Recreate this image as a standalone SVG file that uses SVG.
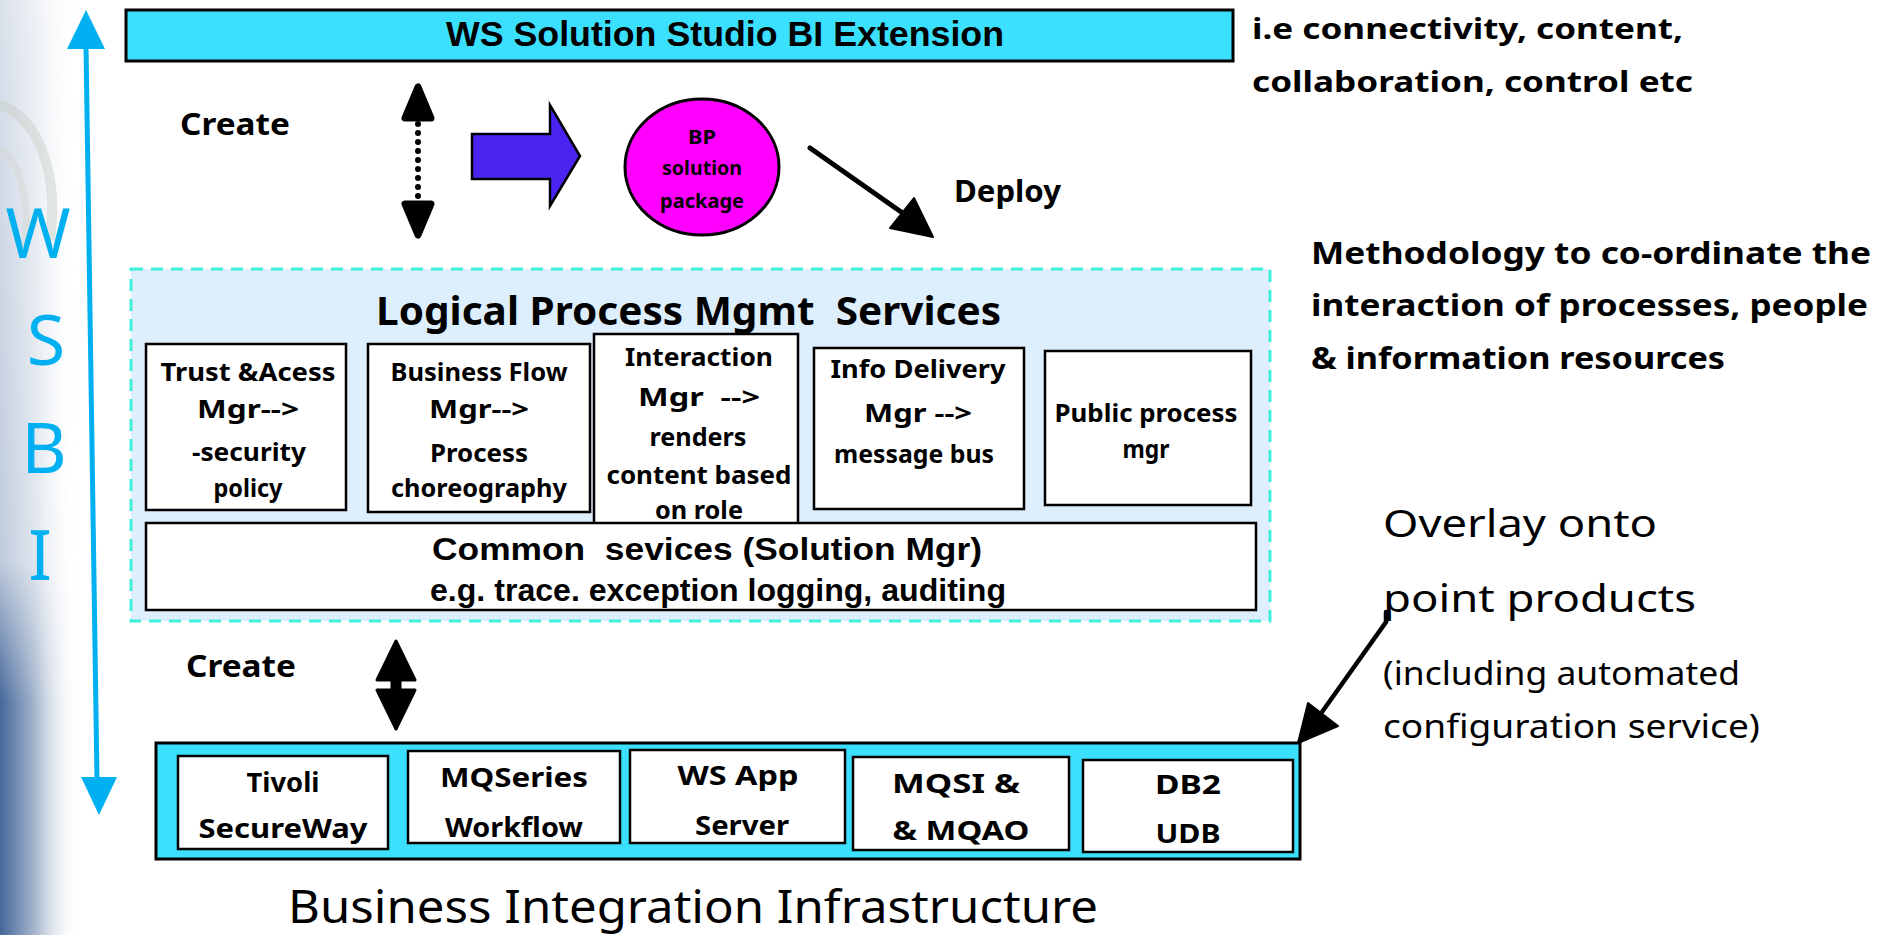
<svg xmlns="http://www.w3.org/2000/svg" width="1882" height="935" viewBox="0 0 1882 935">
<style>
.cb{font-family:"Noto Sans",sans-serif;font-weight:700;fill:#000}
.cr{font-family:"Noto Sans",sans-serif;font-weight:400;fill:#000}
.ab{font-family:"Liberation Sans",Arial,sans-serif;font-weight:700;fill:#000}
.mid{text-anchor:middle}
.box{fill:#fff;stroke:#000;stroke-width:2.5}
.cyan{fill:#3BE0FF;stroke:#000;stroke-width:3}
.wsbi{font-family:"Noto Sans",sans-serif;font-weight:400;fill:#00B0F0;font-size:70px;text-anchor:middle}
.bt{font-size:25px}
.pt{font-size:27px}
</style>
<defs>
<linearGradient id="bgH" x1="0" y1="0" x2="1" y2="0">
<stop offset="0" stop-color="#45679a"/>
<stop offset="0.45" stop-color="#a9b9cf"/>
<stop offset="1" stop-color="#ffffff" stop-opacity="0"/>
</linearGradient>
<linearGradient id="bgV" x1="0" y1="0" x2="0" y2="1">
<stop offset="0" stop-color="#fff" stop-opacity="0.2"/>
<stop offset="0.6" stop-color="#fff" stop-opacity="0.35"/>
<stop offset="0.75" stop-color="#fff" stop-opacity="1"/>
<stop offset="1" stop-color="#fff" stop-opacity="1"/>
</linearGradient>
<mask id="bgM"><rect x="0" y="0" width="90" height="935" fill="url(#bgV)"/></mask>
</defs>

<g id="background">
<rect x="0" y="0" width="1882" height="935" fill="#fff"/>
<rect x="0" y="0" width="80" height="935" fill="url(#bgH)" mask="url(#bgM)"/>
<path d="M0 105 C35 115 60 170 50 240" stroke="#c9cfc9" stroke-width="10" fill="none" opacity="0.5"/>
<path d="M0 150 C20 160 30 200 25 250" stroke="#d4d8d4" stroke-width="7" fill="none" opacity="0.5"/>
</g>

<g id="wsbi-axis">
<text class="wsbi" x="38" y="258">W</text>
<text class="wsbi" x="46" y="365">S</text>
<text class="wsbi" x="44" y="473">B</text>
<text class="wsbi" x="40" y="580">I</text>
</g>

<g id="top-bar">
<rect class="cyan" x="126" y="10" width="1107" height="51"/>
<text class="ab" x="725" y="46" font-size="35" text-anchor="middle" textLength="558" lengthAdjust="spacingAndGlyphs">WS Solution Studio BI Extension</text>
</g>

<g id="note-top">
<text class="cb" x="1252" y="39" font-size="29" textLength="431" lengthAdjust="spacingAndGlyphs">i.e connectivity, content,</text>
<text class="cb" x="1252" y="92" font-size="29" textLength="441" lengthAdjust="spacingAndGlyphs">collaboration, control etc</text>
</g>

<g id="create-top">
<text class="cb" x="180" y="135" font-size="30" textLength="110" lengthAdjust="spacingAndGlyphs">Create</text>
</g>

<g id="bp-package">
<ellipse cx="702" cy="167" rx="77" ry="68" fill="#FF00FF" stroke="#000" stroke-width="3"/>
<text class="cb mid" x="702" y="144" font-size="19" textLength="28" lengthAdjust="spacingAndGlyphs">BP</text>
<text class="cb mid" x="702" y="175" font-size="19" textLength="80" lengthAdjust="spacingAndGlyphs">solution</text>
<text class="cb mid" x="702" y="208" font-size="19" textLength="84" lengthAdjust="spacingAndGlyphs">package</text>
</g>

<g id="deploy-label">
<text class="cb" x="954" y="202" font-size="30" textLength="107" lengthAdjust="spacingAndGlyphs">Deploy</text>
</g>

<g id="note-methodology">
<text class="cb" x="1311" y="264" font-size="30" textLength="560" lengthAdjust="spacingAndGlyphs">Methodology to co-ordinate the</text>
<text class="cb" x="1311" y="316" font-size="30" textLength="557" lengthAdjust="spacingAndGlyphs">interaction of processes, people</text>
<text class="cb" x="1311" y="369" font-size="30" textLength="414" lengthAdjust="spacingAndGlyphs">&amp; information resources</text>
</g>

<g id="logical-services">
<rect x="131" y="269" width="1139" height="352" fill="#DDEEFD" stroke="#3CF0DC" stroke-width="3" stroke-dasharray="12 8"/>
<text class="cb" x="376" y="325" font-size="40" textLength="625" lengthAdjust="spacingAndGlyphs">Logical Process Mgmt&#160; Services</text>
</g>

<g id="trust-access">
<rect class="box" x="146" y="344" width="200" height="166"/>
<text class="cb mid bt" x="248" y="381" textLength="175" lengthAdjust="spacingAndGlyphs">Trust &amp;Acess</text>
<text class="cb mid bt" x="248" y="418" textLength="102" lengthAdjust="spacingAndGlyphs">Mgr--&gt;</text>
<text class="cb mid bt" x="249" y="461" textLength="114" lengthAdjust="spacingAndGlyphs">-security</text>
<text class="cb mid bt" x="248" y="497" textLength="69" lengthAdjust="spacingAndGlyphs">policy</text>
</g>

<g id="business-flow">
<rect class="box" x="368" y="344" width="222" height="168"/>
<text class="cb mid bt" x="479" y="381" textLength="177" lengthAdjust="spacingAndGlyphs">Business Flow</text>
<text class="cb mid bt" x="479" y="418" textLength="100" lengthAdjust="spacingAndGlyphs">Mgr--&gt;</text>
<text class="cb mid bt" x="479" y="462" textLength="98" lengthAdjust="spacingAndGlyphs">Process</text>
<text class="cb mid bt" x="479" y="497" textLength="176" lengthAdjust="spacingAndGlyphs">choreography</text>
</g>

<g id="interaction">
<rect class="box" x="594" y="334" width="204" height="200"/>
<text class="cb mid bt" x="699" y="366" textLength="148" lengthAdjust="spacingAndGlyphs">Interaction</text>
<text class="cb mid bt" x="699" y="406" textLength="122" lengthAdjust="spacingAndGlyphs">Mgr&#160;&#160;--&gt;</text>
<text class="cb mid bt" x="698" y="446" textLength="97" lengthAdjust="spacingAndGlyphs">renders</text>
<text class="cb mid bt" x="699" y="484" textLength="185" lengthAdjust="spacingAndGlyphs">content based</text>
<text class="cb mid bt" x="699" y="519" textLength="88" lengthAdjust="spacingAndGlyphs">on role</text>
</g>

<g id="info-delivery">
<rect class="box" x="814" y="348" width="210" height="161"/>
<text class="cb mid bt" x="918" y="378" textLength="175" lengthAdjust="spacingAndGlyphs">Info Delivery</text>
<text class="cb mid bt" x="918" y="422" textLength="108" lengthAdjust="spacingAndGlyphs">Mgr --&gt;</text>
<text class="cb mid bt" x="914" y="463" textLength="160" lengthAdjust="spacingAndGlyphs">message bus</text>
</g>

<g id="public-process">
<rect class="box" x="1045" y="351" width="206" height="154"/>
<text class="cb mid bt" x="1146" y="422" textLength="183" lengthAdjust="spacingAndGlyphs">Public process</text>
<text class="cb mid bt" x="1146" y="458" textLength="47" lengthAdjust="spacingAndGlyphs">mgr</text>
</g>

<g id="common-services">
<rect class="box" x="146" y="523" width="1110" height="87"/>
<text class="ab mid" x="707" y="560" font-size="32" textLength="550" lengthAdjust="spacingAndGlyphs">Common&#160; sevices (Solution Mgr)</text>
<text class="ab mid" x="718" y="601" font-size="32" textLength="576" lengthAdjust="spacingAndGlyphs">e.g. trace. exception logging, auditing</text>
</g>

<g id="create-bottom">
<text class="cb" x="186" y="677" font-size="30" textLength="110" lengthAdjust="spacingAndGlyphs">Create</text>
</g>

<g id="infrastructure">
<rect class="cyan" x="156" y="743" width="1144" height="116"/>
</g>
<g id="tivoli">
<rect class="box" x="178" y="756" width="210" height="93"/>
<text class="cb mid pt" x="283" y="792" textLength="73" lengthAdjust="spacingAndGlyphs">Tivoli</text>
<text class="cb mid pt" x="283" y="838" textLength="169" lengthAdjust="spacingAndGlyphs">SecureWay</text>
</g>
<g id="mqseries">
<rect class="box" x="408" y="751" width="212" height="92"/>
<text class="cb mid pt" x="514" y="787" textLength="148" lengthAdjust="spacingAndGlyphs">MQSeries</text>
<text class="cb mid pt" x="514" y="837" textLength="138" lengthAdjust="spacingAndGlyphs">Workflow</text>
</g>
<g id="ws-app">
<rect class="box" x="630" y="750" width="215" height="93"/>
<text class="cb mid pt" x="738" y="785" textLength="121" lengthAdjust="spacingAndGlyphs">WS App</text>
<text class="cb mid pt" x="742" y="835" textLength="94" lengthAdjust="spacingAndGlyphs">Server</text>
</g>
<g id="mqsi">
<rect class="box" x="853" y="757" width="216" height="93"/>
<text class="cb mid pt" x="956" y="793" textLength="128" lengthAdjust="spacingAndGlyphs">MQSI &amp;</text>
<text class="cb mid pt" x="961" y="840" textLength="137" lengthAdjust="spacingAndGlyphs">&amp; MQAO</text>
</g>
<g id="db2">
<rect class="box" x="1083" y="760" width="210" height="92"/>
<text class="cb mid pt" x="1188" y="794" textLength="66" lengthAdjust="spacingAndGlyphs">DB2</text>
<text class="cb mid pt" x="1188" y="843" textLength="65" lengthAdjust="spacingAndGlyphs">UDB</text>
</g>

<g id="infra-label">
<text class="cr" x="288" y="923" font-size="45" textLength="810" lengthAdjust="spacingAndGlyphs">Business Integration Infrastructure</text>
</g>

<g id="note-overlay">
<text class="cr" x="1383" y="537" font-size="38" textLength="274" lengthAdjust="spacingAndGlyphs">Overlay onto</text>
<text class="cr" x="1383" y="612" font-size="38" textLength="313" lengthAdjust="spacingAndGlyphs">point products</text>
<text class="cr" x="1383" y="685" font-size="32" textLength="357" lengthAdjust="spacingAndGlyphs">(including automated</text>
<text class="cr" x="1383" y="738" font-size="32" textLength="377" lengthAdjust="spacingAndGlyphs">configuration service)</text>
</g>

<g id="connectors">
<line x1="86" y1="45" x2="97" y2="780" stroke="#00B0F0" stroke-width="5"/>
<polygon points="86,10 67,49 105,49" fill="#00B0F0"/>
<polygon points="99,815 81,777 117,777" fill="#00B0F0"/>
<line x1="418" y1="124" x2="418" y2="198" stroke="#000" stroke-width="6" stroke-linecap="round" stroke-dasharray="0 9"/>
<polygon points="418,87 405,118 431,118" fill="#000" stroke="#000" stroke-width="7" stroke-linejoin="round"/>
<polygon points="418,235 405,204 431,204" fill="#000" stroke="#000" stroke-width="7" stroke-linejoin="round"/>
<polygon points="472,134 550,134 550,105 580,156 550,206 550,179 472,179" fill="#4B23F0" stroke="#000" stroke-width="2.5"/>
<line x1="810" y1="148" x2="904" y2="214" stroke="#000" stroke-width="5" stroke-linecap="round"/>
<polygon points="933,237 890,228 914,198" fill="#000" stroke="#000" stroke-width="2" stroke-linejoin="round"/>
<polygon points="396,641 377,680 392,680 392,690 377,690 396,729 415,690 400,690 400,680 415,680" fill="#000" stroke="#000" stroke-width="3" stroke-linejoin="round"/>
<polyline points="1386,612 1386,622 1322,712" fill="none" stroke="#000" stroke-width="4.5" stroke-linecap="round"/>
<polygon points="1298,743 1308,703 1338,726" fill="#000" stroke="#000" stroke-width="2" stroke-linejoin="round"/>
</g>
</svg>
